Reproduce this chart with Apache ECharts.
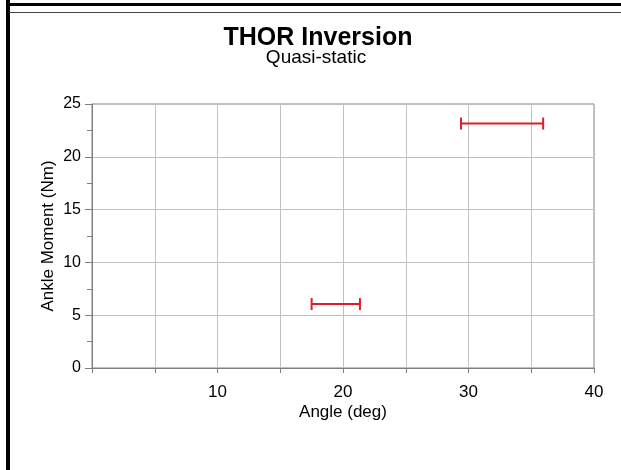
<!DOCTYPE html>
<html>
<head>
<meta charset="utf-8">
<script src="https://cdn.jsdelivr.net/npm/echarts@6/dist/echarts.min.js"></script>
<style>html,body{margin:0;padding:0;background:#fff}#c{width:621px;height:470px}</style>
</head>
<body>
<div id="c"></div>
<script>
// Data
const moments = [6.05, 23.15];        // Ankle Moment (Nm)
const angleLow = [17.5, 29.4];        // Angle (deg) lower end
const angleHigh = [21.35, 35.95];     // Angle (deg) upper end
const xTickLabels = [10, 20, 30, 40];
const yTickLabels = [0, 5, 10, 15, 20, 25];

const FONT = '"Liberation Sans", Arial, sans-serif';
const chart = echarts.init(document.getElementById('c'), null, {renderer: 'canvas'});

const data = moments.map((m, i) => [angleLow[i], angleHigh[i], m]);

chart.setOption({
  animation: false,
  backgroundColor: '#fff',
  textStyle: {fontFamily: FONT},
  title: [{
    text: 'THOR Inversion',
    left: 318,
    textAlign: 'center',
    top: 26,
    padding: 0,
    textStyle: {fontFamily: FONT, fontSize: 25, fontWeight: 'bold', color: '#000'}
  }, {
    text: 'Quasi-static',
    left: 316,
    textAlign: 'center',
    top: 48,
    padding: 0,
    textStyle: {fontFamily: FONT, fontSize: 19, fontWeight: 'normal', color: '#000'}
  }],
  graphic: [
    {type: 'rect', shape: {x: 6, y: 0, width: 4, height: 470}, style: {fill: '#000'}, silent: true},
    {type: 'rect', shape: {x: 6, y: 3, width: 615, height: 3}, style: {fill: '#000'}, silent: true},
    {type: 'line', shape: {x1: 9, y1: 12.5, x2: 621, y2: 12.5}, style: {stroke: '#444', lineWidth: 1}, silent: true}
  ],
  grid: {left: 92, right: 27, top: 104, bottom: 102, show: true, borderColor: '#808080', borderWidth: 1, containLabel: false},
  xAxis: {
    type: 'value', min: 0, max: 40, interval: 5,
    name: 'Angle (deg)', nameLocation: 'middle', nameGap: 36, nameMoveOverlap: false,
    nameTextStyle: {fontFamily: FONT, fontSize: 17, color: '#000'},
    axisLine: {show: true, lineStyle: {color: '#808080', width: 1}},
    axisTick: {show: true, length: 5, lineStyle: {color: '#808080'}},
    axisLabel: {
      fontFamily: FONT, fontSize: 17, color: '#000', margin: 16,
      formatter: v => xTickLabels.indexOf(v) >= 0 ? String(v) : ''
    },
    splitLine: {show: true, lineStyle: {color: '#c0c0c0', width: 1}}
  },
  yAxis: {
    type: 'value', min: 0, max: 25, interval: 5,
    name: 'Ankle Moment (Nm)', nameLocation: 'middle', nameGap: 35, nameMoveOverlap: false,
    nameTextStyle: {fontFamily: FONT, fontSize: 17, color: '#000'},
    axisLine: {show: true, lineStyle: {color: '#808080', width: 1}},
    axisTick: {show: true, length: 7, lineStyle: {color: '#808080'}},
    minorTick: {show: true, splitNumber: 2, length: 5, lineStyle: {color: '#808080'}},
    axisLabel: {
      fontFamily: FONT, fontSize: 16, color: '#000', margin: 11,
      formatter: v => yTickLabels.indexOf(v) >= 0 ? String(v) : ''
    },
    splitLine: {show: true, lineStyle: {color: '#c0c0c0', width: 1}}
  },
  series: [{
    type: 'custom',
    data: data,
    encode: {x: [0, 1], y: 2},
    renderItem: function (params, api) {
      const lo = api.coord([api.value(0), api.value(2)]);
      const hi = api.coord([api.value(1), api.value(2)]);
      const h = 6;
      const style = {stroke: '#dc1f26', lineWidth: 2, fill: null};
      return {
        type: 'group',
        children: [
          {type: 'line', shape: {x1: lo[0], y1: lo[1], x2: hi[0], y2: hi[1]}, style: style},
          {type: 'line', shape: {x1: lo[0], y1: lo[1] - h, x2: lo[0], y2: lo[1] + h}, style: style},
          {type: 'line', shape: {x1: hi[0], y1: hi[1] - h, x2: hi[0], y2: hi[1] + h}, style: style}
        ]
      };
    }
  }]
});
</script>
</body>
</html>
